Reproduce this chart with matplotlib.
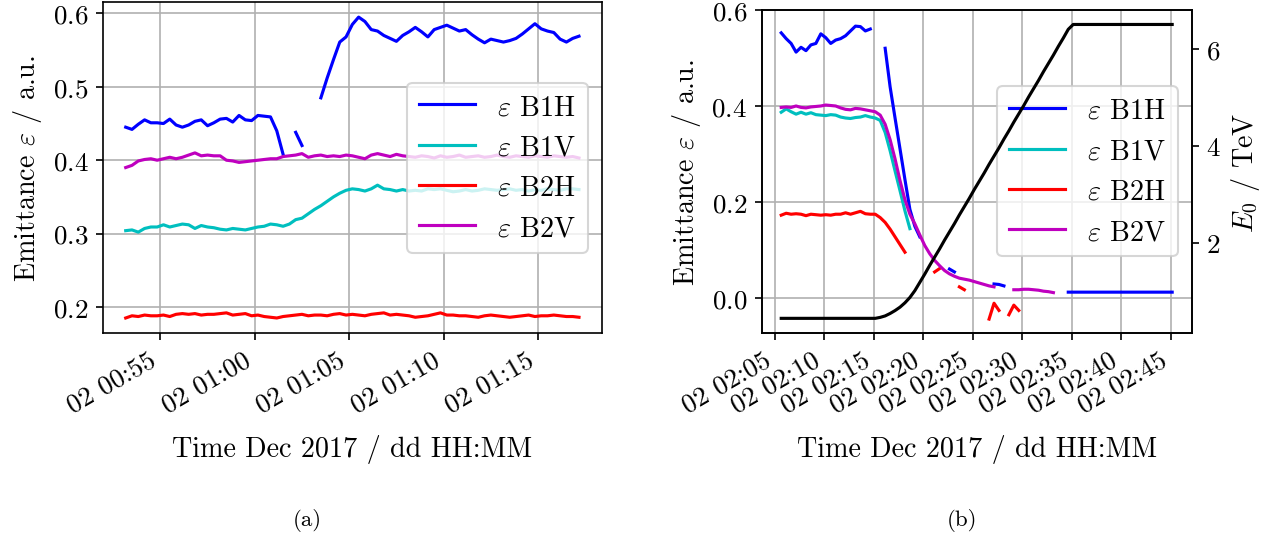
import matplotlib
matplotlib.use("Agg")
import matplotlib.pyplot as plt
import matplotlib.dates as mdates
import numpy as np
import pandas as pd

plt.rcParams['font.family'] = 'serif'
plt.rcParams['font.serif'] = ['cmr10', 'DejaVu Serif']
plt.rcParams['mathtext.fontset'] = 'cm'
plt.rcParams['axes.formatter.use_mathtext'] = True
plt.rcParams['font.size'] = 13

nan = np.nan

# (a) 02 Dec 2017, samples every 20 s starting 00:53:10
time_a = pd.date_range('2017-12-02 00:53:10', periods=73, freq='20s')

b1h_a = [0.445, 0.442, 0.449, 0.455, 0.451, 0.451, 0.450, 0.456, 0.448, 0.445,
         0.448, 0.453, 0.455, 0.447, 0.451, 0.456, 0.457, 0.452, 0.461, 0.455,
         0.454, 0.461, 0.460, 0.459, 0.440, 0.408, nan, 0.438, 0.420, nan,
         nan, 0.485, 0.512, 0.537, 0.561, 0.568, 0.585, 0.595, 0.589, 0.578,
         0.576, 0.570, 0.566, 0.562, 0.570, 0.575, 0.581, 0.575, 0.568, 0.578,
         0.581, 0.584, 0.580, 0.576, 0.578, 0.571, 0.565, 0.560, 0.565, 0.563,
         0.561, 0.563, 0.566, 0.572, 0.579, 0.586, 0.579, 0.576, 0.574, 0.565,
         0.561, 0.566, 0.569]
b1v_a = [0.304, 0.305, 0.302, 0.307, 0.309, 0.309, 0.312, 0.309, 0.311, 0.313,
         0.312, 0.307, 0.311, 0.309, 0.308, 0.306, 0.305, 0.307, 0.306, 0.305,
         0.307, 0.309, 0.310, 0.313, 0.312, 0.310, 0.313, 0.319, 0.321, 0.327,
         0.333, 0.338, 0.344, 0.350, 0.355, 0.359, 0.361, 0.360, 0.358, 0.361,
         0.366, 0.361, 0.360, 0.358, 0.360, 0.358, 0.359, 0.358, 0.361, 0.360,
         0.361, 0.359, 0.357, 0.358, 0.360, 0.358, 0.359, 0.361, 0.360, 0.359,
         0.360, 0.361, 0.359, 0.360, 0.358, 0.360, 0.359, 0.361, 0.360, 0.359,
         0.361, 0.361, 0.360]
b2h_a = [0.185, 0.188, 0.187, 0.189, 0.188, 0.188, 0.189, 0.187, 0.190, 0.191,
         0.190, 0.191, 0.189, 0.190, 0.190, 0.191, 0.192, 0.189, 0.190, 0.191,
         0.188, 0.189, 0.187, 0.186, 0.185, 0.187, 0.188, 0.189, 0.190, 0.188,
         0.189, 0.189, 0.188, 0.190, 0.191, 0.189, 0.190, 0.189, 0.188, 0.190,
         0.191, 0.192, 0.189, 0.190, 0.189, 0.188, 0.186, 0.187, 0.188, 0.190,
         0.192, 0.189, 0.189, 0.188, 0.188, 0.187, 0.186, 0.188, 0.189, 0.188,
         0.187, 0.186, 0.187, 0.188, 0.189, 0.187, 0.188, 0.188, 0.189, 0.188,
         0.187, 0.187, 0.186]
b2v_a = [0.390, 0.393, 0.399, 0.401, 0.402, 0.400, 0.402, 0.404, 0.402, 0.404,
         0.407, 0.410, 0.406, 0.407, 0.406, 0.406, 0.400, 0.399, 0.397, 0.398,
         0.399, 0.400, 0.401, 0.402, 0.402, 0.405, 0.406, 0.407, 0.409, 0.404,
         0.406, 0.407, 0.405, 0.406, 0.405, 0.407, 0.406, 0.404, 0.402, 0.407,
         0.409, 0.407, 0.405, 0.408, 0.406, 0.405, 0.404, 0.406, 0.405, 0.403,
         0.406, 0.404, 0.405, 0.407, 0.404, 0.405, 0.406, 0.404, 0.405, 0.407,
         0.405, 0.404, 0.406, 0.405, 0.404, 0.406, 0.405, 0.404, 0.406, 0.405,
         0.404, 0.405, 0.403]

# (b) samples every 30 s starting 02:05:40
time_b = pd.date_range('2017-12-02 02:05:40', periods=80, freq='30s')

b1h_b = ([0.552, 0.540, 0.530, 0.512, 0.522, 0.515, 0.527, 0.530, 0.550, 0.542,
          0.530, 0.537, 0.540, 0.546, 0.556, 0.566, 0.565, 0.556, 0.560, nan,
          nan, 0.520, 0.440, 0.375, 0.311, 0.247, 0.185, 0.150, 0.128]
         + [nan] * 5 + [0.061, 0.055] + [nan] * 7 + [0.030, 0.029, 0.026]
         + [nan] * 12 + [0.013] * 22)
b1v_b = ([0.387, 0.394, 0.388, 0.383, 0.387, 0.383, 0.386, 0.382, 0.381, 0.380,
          0.382, 0.381, 0.377, 0.375, 0.374, 0.376, 0.377, 0.380, 0.377, 0.375,
          0.370, 0.345, 0.307, 0.265, 0.224, 0.182, 0.145]
         + [nan] * 53)
b2h_b = ([0.173, 0.177, 0.175, 0.176, 0.175, 0.172, 0.175, 0.174, 0.173, 0.174,
          0.173, 0.175, 0.175, 0.178, 0.175, 0.178, 0.181, 0.176, 0.175, 0.175,
          0.168, 0.158, 0.144, 0.128, 0.112, 0.096]
         + [nan] * 5 + [0.055, 0.062] + [nan] * 3 + [0.024, 0.018] + [nan] * 4
         + [-0.043, -0.010, -0.025, nan, -0.034, -0.014, -0.025] + [nan] * 31)
b2v_b = ([0.397, 0.398, 0.397, 0.400, 0.397, 0.396, 0.398, 0.399, 0.400, 0.402,
          0.401, 0.400, 0.396, 0.393, 0.392, 0.395, 0.394, 0.392, 0.390, 0.388,
          0.381, 0.362, 0.330, 0.290, 0.245, 0.205, 0.175, 0.155, 0.132, 0.110,
          0.093, 0.079, 0.068, 0.058, 0.051, 0.046, 0.042, 0.040, 0.038, 0.035,
          0.032, 0.029, 0.026, 0.024, nan, nan, nan, 0.018, 0.018, 0.019,
          0.019, 0.018, 0.017, 0.015, 0.014, 0.012]
         + [nan] * 24)
energy_b = ([0.45] * 20
            + [0.47, 0.50, 0.55, 0.61, 0.68, 0.77, 0.88, 1.02, 1.19, 1.36,
               1.54, 1.71, 1.88, 2.06, 2.23, 2.40, 2.58, 2.75, 2.92, 3.10,
               3.27, 3.44, 3.62, 3.79, 3.96, 4.14, 4.31, 4.49, 4.66, 4.83,
               5.01, 5.18, 5.35, 5.53, 5.70, 5.87, 6.05, 6.22, 6.40]
            + [6.5] * 21)

labels = [r'$\varepsilon$ B1H', r'$\varepsilon$ B1V', r'$\varepsilon$ B2H', r'$\varepsilon$ B2V']
colors = ['b', 'c', 'r', 'm']

for s in (b1h_b, b1v_b, b2h_b, b2v_b, energy_b):
    assert len(s) == len(time_b), len(s)

fig = plt.figure(figsize=(8.48, 3.593), dpi=150)
ax1 = fig.add_axes([0.081, 0.3803, 0.392, 0.6141])
ax2 = fig.add_axes([0.5988, 0.3803, 0.3381, 0.5998])

fmt = mdates.DateFormatter('%d %H:%M')


def style_axis(ax):
    ax.xaxis.set_major_locator(mdates.MinuteLocator(byminute=range(0, 60, 5)))
    ax.xaxis.set_major_formatter(fmt)
    ax.grid(True)
    ax.set_xlabel('Time Dec 2017 / dd HH:MM', fontsize=13.5, labelpad=8)
    ax.set_ylabel(r'Emittance $\varepsilon$ / a.u.', fontsize=13.5)
    for lab in ax.get_xticklabels():
        lab.set_rotation(30)
        lab.set_ha('right')
    ax.legend(loc='center right', fontsize=13.5)


# (a)
for y, lab, c in zip([b1h_a, b1v_a, b2h_a, b2v_a], labels, colors):
    ax1.plot(time_a, y, color=c, label=lab)
style_axis(ax1)
ax1.set_yticks([0.2, 0.3, 0.4, 0.5, 0.6])

# (b)
for y, lab, c in zip([b1h_b, b1v_b, b2h_b, b2v_b], labels, colors):
    ax2.plot(time_b, y, color=c, label=lab)
style_axis(ax2)
ax2.set_ylim(-0.072, 0.6)
ax2.set_yticks([0.0, 0.2, 0.4, 0.6])

ax2b = ax2.twinx()
ax2b.plot(time_b, energy_b, color='k')
ax2b.set_ylabel(r'$E_0$ / TeV', fontsize=13.5)
ax2b.set_yticks([2, 4, 6])

fig.text(0.2413, 0.034, '(a)', ha='center', va='center', fontsize=11)
fig.text(0.7563, 0.034, '(b)', ha='center', va='center', fontsize=11)

fig.savefig('out.png', dpi=150)
